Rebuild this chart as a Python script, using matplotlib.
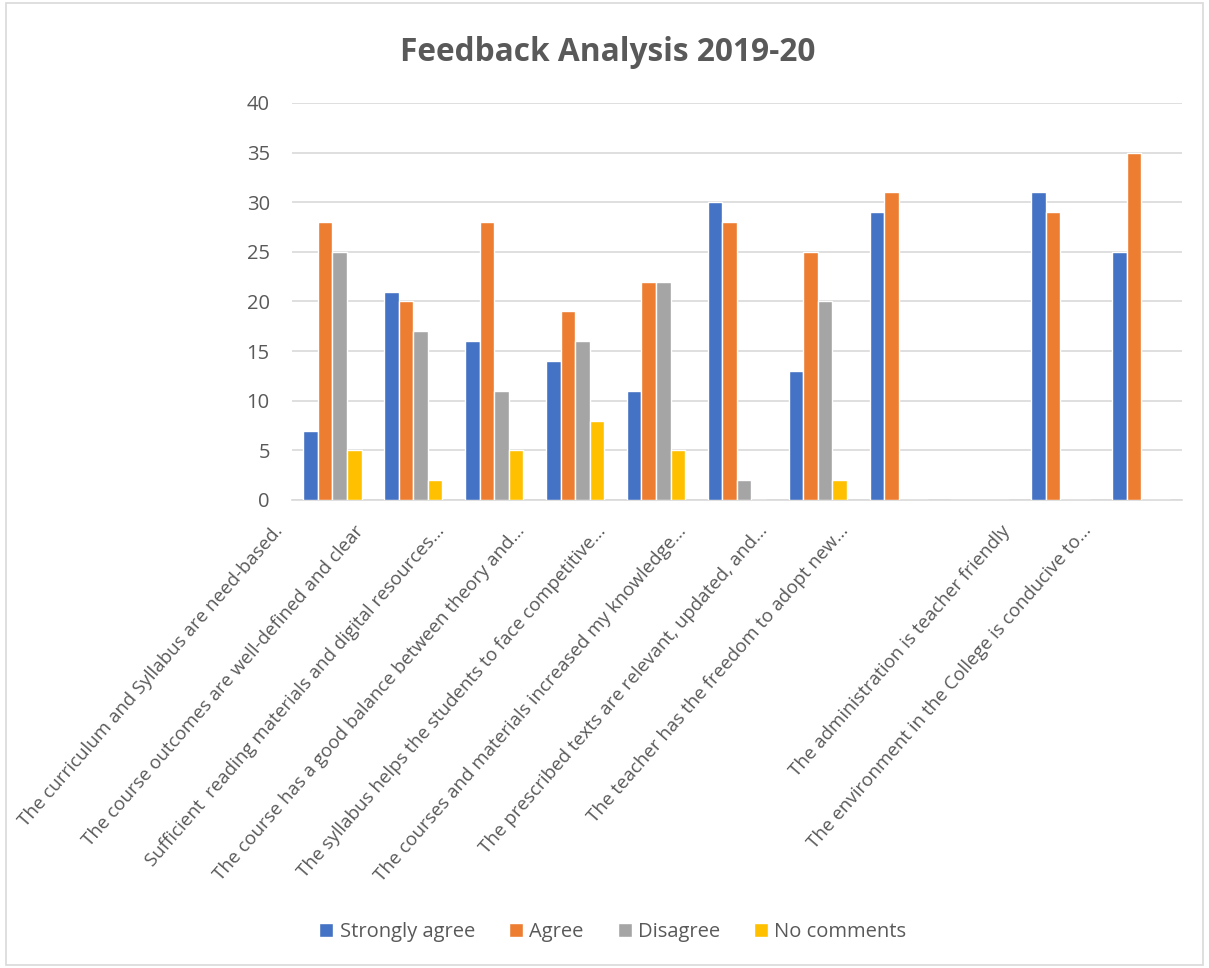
import numpy as np
import matplotlib.pyplot as plt
import matplotlib.transforms as mtransforms
from matplotlib.patches import Rectangle

plt.rcParams['font.family'] = ['Open Sans', 'DejaVu Sans']

categories = [
    "The curriculum and Syllabus are need-based.",
    "The course outcomes are well-defined and clear",
    "Sufficient  reading materials and digital resources...",
    "The course has a good balance between theory and...",
    "The syllabus helps the students to face competitive...",
    "The courses and materials increased my knowledge...",
    "The prescribed texts are relevant, updated, and...",
    "The teacher has the freedom to adopt new...",
    "",
    "The administration is teacher friendly",
    "The environment in the College is conducive to...",
]
strongly_agree = [7, 21, 16, 14, 11, 30, 13, 29, 0, 31, 25]
agree = [28, 20, 28, 19, 22, 28, 25, 31, 0, 29, 35]
disagree = [25, 17, 11, 16, 22, 2, 20, 0, 0, 0, 0]
no_comments = [5, 2, 5, 8, 5, 0, 2, 0, 0, 0, 0]

series = [("Strongly agree", strongly_agree, "#4472C4"),
          ("Agree", agree, "#ED7D31"),
          ("Disagree", disagree, "#A5A5A5"),
          ("No comments", no_comments, "#FFC000")]

fig = plt.figure(figsize=(12.09, 9.68), dpi=100)
ax = fig.add_axes([0.2415, 0.4835, 0.736, 0.4101])

x = np.arange(len(categories))
slot = 0.18
for i, (name, vals, col) in enumerate(series):
    offs = (i - 1.5) * slot
    ax.bar(x + offs, vals, width=slot, color=col, edgecolor='white',
           linewidth=1.0, label=name, zorder=3)

ax.set_xlim(-0.5, len(categories) - 0.5)
ax.set_ylim(0, 40)
ax.set_yticks(range(0, 41, 5))
ax.yaxis.grid(True, color='#D9D9D9', linewidth=1.2, zorder=0)
for s in ['top', 'right', 'left']:
    ax.spines[s].set_visible(False)
ax.spines['bottom'].set_color('#D9D9D9')
ax.spines['bottom'].set_linewidth(1.2)
ax.tick_params(axis='both', length=0, colors='#595959')
ax.tick_params(axis='y', pad=16, labelsize=14.5)
ax.tick_params(axis='x', pad=0)
ax.set_xticks(x)
ax.set_xticklabels(categories, rotation=49, ha='right', va='top', rotation_mode='anchor',
                   fontsize=13.5, color='#595959')

# shift rotated labels left/down like the original
shift = mtransforms.ScaledTranslation(-0.6, -0.22, fig.dpi_scale_trans)
for lbl in ax.get_xticklabels():
    lbl.set_transform(lbl.get_transform() + shift)

fig.suptitle("Feedback Analysis 2019-20", x=0.503, y=0.963, fontsize=22.8,
             fontweight='bold', color='#595959')

fig.legend(loc='center', bbox_to_anchor=(0.507, 0.037), ncol=4, frameon=False,
           fontsize=14.5, handlelength=0.7, handleheight=0.7, handletextpad=0.3,
           columnspacing=1.7, labelcolor='#595959')

fig.patches.append(Rectangle((0.005, 0.003), 0.99, 0.994, transform=fig.transFigure,
                             fill=False, edgecolor='#D9D9D9', linewidth=1.2))

fig.savefig("out.png", dpi=100)
